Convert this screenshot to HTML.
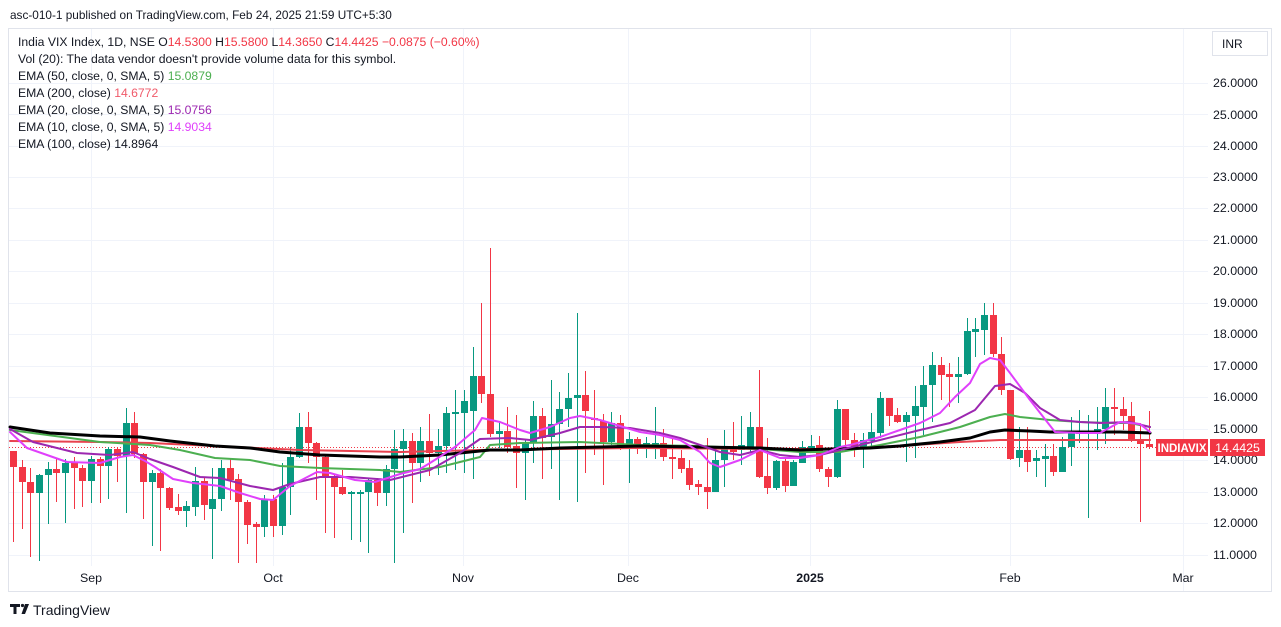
<!DOCTYPE html>
<html><head><meta charset="utf-8"><style>
html,body{margin:0;padding:0;background:#fff;}
body{width:1281px;height:627px;overflow:hidden;}
svg{display:block;font-family:"Liberation Sans",sans-serif;}
</style></head><body>
<svg width="1281" height="627" viewBox="0 0 1281 627" xmlns="http://www.w3.org/2000/svg">
<rect width="1281" height="627" fill="#fff"/>
<text x="10" y="19" font-size="11.8" fill="#131722">asc-010-1 published on TradingView.com, Feb 24, 2025 21:59 UTC+5:30</text>
<rect x="8.5" y="28.5" width="1263" height="563" fill="#fff" stroke="#e0e3eb"/>
<g stroke="#f0f3fa" stroke-width="1">
<path d="M9 83.5H1208M9 114.5H1208M9 146.5H1208M9 177.5H1208M9 208.5H1208M9 240.5H1208M9 271.5H1208M9 303.5H1208M9 334.5H1208M9 366.5H1208M9 397.5H1208M9 429.5H1208M9 460.5H1208M9 492.5H1208M9 523.5H1208M9 555.5H1208"/>
<path d="M91.5 29V566M273.5 29V566M463.5 29V566M628.5 29V566M810.5 29V566M1010.5 29V566M1183.5 29V591"/>
</g>
<line x1="9" y1="447.5" x2="1156" y2="447.5" stroke="#f23645" stroke-width="1" stroke-dasharray="1,2"/>
<path fill="#089981" d="M39 474h1V561h-1zM36 475h7V493h-7zM48 462h1V524h-1zM45 469h7V475h-7zM65 459h1V523h-1zM62 463h7V473h-7zM91 456h1V503h-1zM88 459h7V481h-7zM108 447h1V499h-1zM105 449h7V466h-7zM126 408h1V513h-1zM123 423h7V456h-7zM152 470h1V546h-1zM149 473h7V482h-7zM186 501h1V527h-1zM183 506h7V511h-7zM195 467h1V516h-1zM192 481h7V507h-7zM212 468h1V559h-1zM209 499h7V509h-7zM221 460h1V511h-1zM218 468h7V499h-7zM264 495h1V537h-1zM261 499h7V527h-7zM282 463h1V535h-1zM279 487h7V526h-7zM290 447h1V515h-1zM287 457h7V487h-7zM299 413h1V458h-1zM296 427h7V457h-7zM351 491h1V540h-1zM348 492h7V494h-7zM360 490h1V542h-1zM357 492h7V494h-7zM368 478h1V553h-1zM365 480h7V492h-7zM386 465h1V506h-1zM383 469h7V493h-7zM394 430h1V563h-1zM391 449h7V469h-7zM403 429h1V533h-1zM400 441h7V449h-7zM420 427h1V482h-1zM417 441h7V463h-7zM438 429h1V475h-1zM435 446h7V453h-7zM446 407h1V473h-1zM443 413h7V446h-7zM455 390h1V470h-1zM452 412h7V414h-7zM464 390h1V473h-1zM461 401h7V413h-7zM473 347h1V479h-1zM470 376h7V411h-7zM499 422h1V448h-1zM496 431h7V434h-7zM525 440h1V500h-1zM522 442h7V453h-7zM533 401h1V463h-1zM530 416h7V443h-7zM551 380h1V469h-1zM548 424h7V437h-7zM559 392h1V500h-1zM556 409h7V424h-7zM568 373h1V427h-1zM565 398h7V409h-7zM577 313h1V502h-1zM574 395h7V398h-7zM611 412h1V445h-1zM608 423h7V442h-7zM629 432h1V483h-1zM626 439h7V447h-7zM646 437h1V458h-1zM643 443h7V447h-7zM655 407h1V459h-1zM652 443h7V447h-7zM715 446h1V492h-1zM712 460h7V492h-7zM724 430h1V487h-1zM721 447h7V460h-7zM741 416h1V465h-1zM738 445h7V450h-7zM750 412h1V452h-1zM747 427h7V447h-7zM776 460h1V490h-1zM773 461h7V488h-7zM793 460h1V486h-1zM790 462h7V486h-7zM802 441h1V463h-1zM799 447h7V463h-7zM811 435h1V448h-1zM808 446h7V448h-7zM837 400h1V478h-1zM834 409h7V477h-7zM863 433h1V468h-1zM860 440h7V447h-7zM871 413h1V447h-1zM868 432h7V441h-7zM880 392h1V438h-1zM877 398h7V433h-7zM906 412h1V462h-1zM903 415h7V422h-7zM915 386h1V458h-1zM912 406h7V416h-7zM923 366h1V435h-1zM920 385h7V407h-7zM932 352h1V422h-1zM929 365h7V385h-7zM958 357h1V403h-1zM955 374h7V377h-7zM967 318h1V375h-1zM964 331h7V374h-7zM975 318h1V357h-1zM972 329h7V332h-7zM984 303h1V355h-1zM981 315h7V330h-7zM1019 427h1V467h-1zM1016 450h7V458h-7zM1036 450h1V477h-1zM1033 458h7V461h-7zM1045 444h1V487h-1zM1042 456h7V459h-7zM1062 437h1V472h-1zM1059 447h7V472h-7zM1071 417h1V466h-1zM1068 433h7V447h-7zM1079 410h1V443h-1zM1076 432h7V434h-7zM1088 415h1V518h-1zM1085 431h7V433h-7zM1097 407h1V450h-1zM1094 429h7V432h-7zM1105 388h1V444h-1zM1102 407h7V429h-7z"/>
<path fill="#f23645" d="M13 451h1V542h-1zM10 451h7V467h-7zM22 460h1V529h-1zM19 467h7V482h-7zM30 468h1V557h-1zM27 482h7V493h-7zM56 459h1V502h-1zM53 469h7V473h-7zM74 457h1V509h-1zM71 463h7V468h-7zM82 465h1V507h-1zM79 468h7V481h-7zM100 457h1V503h-1zM97 459h7V466h-7zM117 447h1V482h-1zM114 449h7V456h-7zM134 412h1V458h-1zM131 423h7V454h-7zM143 453h1V519h-1zM140 454h7V482h-7zM160 469h1V551h-1zM157 473h7V488h-7zM169 487h1V510h-1zM166 488h7V508h-7zM178 494h1V515h-1zM175 507h7V511h-7zM204 477h1V520h-1zM201 481h7V505h-7zM230 459h1V500h-1zM227 468h7V480h-7zM238 474h1V563h-1zM235 479h7V502h-7zM247 500h1V544h-1zM244 502h7V525h-7zM256 522h1V563h-1zM253 524h7V527h-7zM273 495h1V537h-1zM270 499h7V526h-7zM308 412h1V463h-1zM305 427h7V443h-7zM316 442h1V500h-1zM313 443h7V457h-7zM325 455h1V533h-1zM322 457h7V477h-7zM334 475h1V538h-1zM331 477h7V487h-7zM342 470h1V495h-1zM339 487h7V494h-7zM377 478h1V506h-1zM374 480h7V493h-7zM412 433h1V503h-1zM409 441h7V463h-7zM429 414h1V476h-1zM426 441h7V453h-7zM481 303h1V403h-1zM478 376h7V394h-7zM490 248h1V437h-1zM487 394h7V434h-7zM507 407h1V453h-1zM504 431h7V447h-7zM516 415h1V488h-1zM513 446h7V453h-7zM542 408h1V479h-1zM539 416h7V438h-7zM585 371h1V473h-1zM582 395h7V411h-7zM594 390h1V455h-1zM591 418h7V420h-7zM603 414h1V485h-1zM600 421h7V442h-7zM620 415h1V450h-1zM617 423h7V448h-7zM637 437h1V454h-1zM634 439h7V449h-7zM663 429h1V461h-1zM660 443h7V457h-7zM672 439h1V479h-1zM669 457h7V459h-7zM681 450h1V473h-1zM678 458h7V469h-7zM689 460h1V490h-1zM686 468h7V485h-7zM698 480h1V495h-1zM695 484h7V487h-7zM707 438h1V509h-1zM704 487h7V492h-7zM733 422h1V460h-1zM730 447h7V452h-7zM759 370h1V478h-1zM756 427h7V477h-7zM767 438h1V494h-1zM764 476h7V488h-7zM785 459h1V492h-1zM782 461h7V486h-7zM819 436h1V472h-1zM816 445h7V469h-7zM828 467h1V487h-1zM825 469h7V477h-7zM845 409h1V448h-1zM842 409h7V440h-7zM854 433h1V457h-1zM851 440h7V447h-7zM889 398h1V426h-1zM886 398h7V416h-7zM897 408h1V423h-1zM894 415h7V422h-7zM941 357h1V400h-1zM938 365h7V375h-7zM949 363h1V407h-1zM946 374h7V377h-7zM993 303h1V357h-1zM990 315h7V354h-7zM1001 337h1V395h-1zM998 354h7V390h-7zM1010 390h1V460h-1zM1007 390h7V459h-7zM1027 427h1V472h-1zM1024 450h7V462h-7zM1053 444h1V476h-1zM1050 456h7V472h-7zM1114 388h1V435h-1zM1111 407h7V409h-7zM1123 397h1V430h-1zM1120 409h7V416h-7zM1131 402h1V442h-1zM1128 416h7V440h-7zM1140 423h1V522h-1zM1137 439h7V444h-7zM1149 411h1V449h-1zM1146 444h7V447h-7z"/>
<g fill="none" stroke-linejoin="round" stroke-linecap="round">
<polyline stroke="#e8424f" stroke-width="2" points="10,441 100,442 150,443 215,446 300,450 400,452 480,450 560,449 640,448 760,449 830,449 900,446 960,442 1000,440 1150,440"/>
<polyline stroke="#4caf50" stroke-width="2" points="10,430 40,434 100,442 150,445 180,450 215,458 250,460 280,466 320,468 380,470 400,472 440,467 480,457 490,445 520,443 580,442 640,445 700,446 760,449 800,452 840,452 880,445 920,437 960,427 990,417 1005,414 1020,417 1050,420 1080,422 1110,423 1130,423 1150,427"/>
<polyline stroke="#000" stroke-width="3" points="10,427 30,430 50,433 100,436 140,437 170,441 215,446 250,448 280,452 320,455 380,457 400,457 420,456 440,455 470,452 490,450 520,450 560,448 600,447 640,446 700,447 760,448 800,450 830,449 870,448 900,446 940,442 970,438 990,432 1005,430 1030,431 1050,432 1080,432 1120,432 1150,433"/>
<polyline stroke="#9c27b0" stroke-width="2" points="10,429 33,442 77,453 110,455 133,452 150,459 173,467 200,477 220,478 250,486 273,490 290,484 320,477 350,477 390,480 410,475 430,470 460,453 480,439 510,438 530,440 560,433 580,427 600,427 630,428 660,433 680,438 700,445 720,452 740,455 760,450 780,455 800,457 820,455 840,450 880,440 920,430 950,423 975,410 995,386 1010,384 1025,393 1040,408 1060,420 1080,422 1100,423 1130,422 1150,427"/>
<polyline stroke="#e040fb" stroke-width="2" points="10,432 27,448 67,462 100,463 120,457 133,455 145,461 155,467 173,479 193,483 220,486 240,493 260,499 273,500 290,486 317,472 330,473 355,480 375,482 400,474 420,469 430,463 455,447 475,430 482,418 500,422 520,430 530,433 550,427 570,418 580,416 600,420 620,426 640,432 660,435 680,440 700,452 710,463 720,467 740,460 760,450 780,458 800,458 820,455 840,447 850,445 880,437 900,430 920,423 940,413 955,397 970,383 980,364 990,358 1000,360 1010,373 1030,400 1055,432 1080,433 1100,433 1120,422 1140,424 1150,432"/>
</g>
<g font-size="12.4" fill="#131722">
<text x="1213" y="87">26.0000</text><text x="1213" y="119">25.0000</text><text x="1213" y="150">24.0000</text><text x="1213" y="181">23.0000</text><text x="1213" y="212">22.0000</text><text x="1213" y="244">21.0000</text><text x="1213" y="275">20.0000</text><text x="1213" y="307">19.0000</text><text x="1213" y="338">18.0000</text><text x="1213" y="370">17.0000</text><text x="1213" y="401">16.0000</text><text x="1213" y="433">15.0000</text><text x="1213" y="464">14.0000</text><text x="1213" y="496">13.0000</text><text x="1213" y="527">12.0000</text><text x="1213" y="559">11.0000</text>
</g>
<rect x="1212.5" y="31.5" width="55" height="24" fill="#fff" stroke="#e0e3eb"/>
<text x="1222" y="48" font-size="12" fill="#131722">INR</text>
<rect x="1156" y="439" width="52" height="17" fill="#f23645"/>
<text x="1182" y="452" font-size="11.5" font-weight="bold" fill="#fff" text-anchor="middle">INDIAVIX</text>
<rect x="1210" y="439" width="55" height="17" fill="#f23645"/>
<text x="1237.5" y="452" font-size="12.4" fill="#fff" text-anchor="middle">14.4425</text>
<g font-size="12.4" fill="#131722" text-anchor="middle">
<text x="91" y="582">Sep</text><text x="273" y="582">Oct</text><text x="463" y="582">Nov</text><text x="628" y="582">Dec</text><text x="810" y="582" font-weight="bold">2025</text><text x="1010" y="582">Feb</text><text x="1183" y="582">Mar</text>
</g>
<g font-size="12.2" fill="#131722">
<text x="18" y="46">India VIX Index, 1D, NSE <tspan>O</tspan><tspan fill="#f23645">14.5300</tspan> <tspan>H</tspan><tspan fill="#f23645">15.5800</tspan> <tspan>L</tspan><tspan fill="#f23645">14.3650</tspan> <tspan>C</tspan><tspan fill="#f23645">14.4425</tspan> <tspan fill="#f23645">−0.0875 (−0.60%)</tspan></text>
<text x="18" y="63">Vol (20): The data vendor doesn't provide volume data for this symbol.</text>
<text x="18" y="80">EMA (50, close, 0, SMA, 5) <tspan fill="#4caf50">15.0879</tspan></text>
<text x="18" y="97">EMA (200, close) <tspan fill="#f05a6a">14.6772</tspan></text>
<text x="18" y="114">EMA (20, close, 0, SMA, 5) <tspan fill="#9c27b0">15.0756</tspan></text>
<text x="18" y="131">EMA (10, close, 0, SMA, 5) <tspan fill="#e040fb">14.9034</tspan></text>
<text x="18" y="148">EMA (100, close) <tspan>14.8964</tspan></text>
</g>
<g fill="#131722">
<path d="M10 604h10v3h-3.5v7h-3v-7H10z"/>
<circle cx="22.5" cy="605.5" r="1.6"/>
<path d="M25 604h4l-4 10h-3.5z"/>
</g>
<text x="33" y="615" font-size="14" fill="#131722">TradingView</text>
</svg>
</body></html>
